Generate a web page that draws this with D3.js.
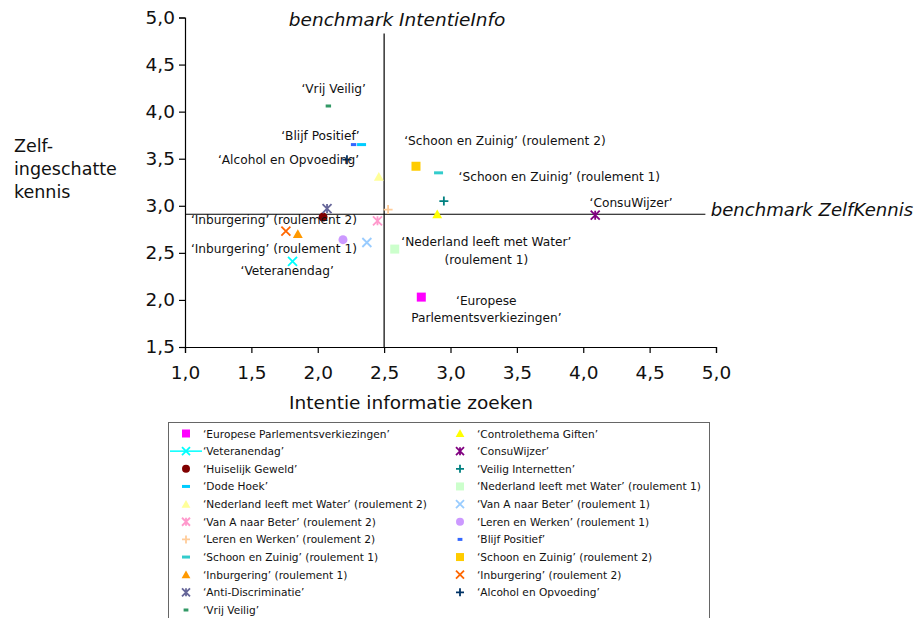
<!DOCTYPE html>
<html>
<head>
<meta charset="utf-8">
<script src="https://cdn.jsdelivr.net/npm/d3@7"></script>
<style>
  html, body { margin: 0; padding: 0; background: #fff; }
  svg { display: block; font-family: "DejaVu Sans", Verdana, sans-serif; }
</style>
</head>
<body>
<svg id="chart" width="921" height="618"></svg>
<script>
// Campaign names, in legend order (read row by row over two columns)
const campaigns = [
  "‘Europese Parlementsverkiezingen’",
  "‘Controlethema Giften’",
  "‘Veteranendag’",
  "‘ConsuWijzer’",
  "‘Huiselijk Geweld’",
  "‘Veilig Internetten’",
  "‘Dode Hoek’",
  "‘Nederland leeft met Water’ (roulement 1)",
  "‘Nederland leeft met Water’ (roulement 2)",
  "‘Van A naar Beter’ (roulement 1)",
  "‘Van A naar Beter’ (roulement 2)",
  "‘Leren en Werken’ (roulement 1)",
  "‘Leren en Werken’ (roulement 2)",
  "‘Blijf Positief’",
  "‘Schoon en Zuinig’ (roulement 1)",
  "‘Schoon en Zuinig’ (roulement 2)",
  "‘Inburgering’ (roulement 1)",
  "‘Inburgering’ (roulement 2)",
  "‘Anti-Discriminatie’",
  "‘Alcohol en Opvoeding’",
  "‘Vrij Veilig’"
];

// Intention to search for information (x)
const intentie = [2.78, 2.90, 1.81, 4.09, 2.04, 2.95, 2.33, 2.58, 2.46, 2.37, 2.45,
                  2.19, 2.53, 2.27, 2.91, 2.74, 1.85, 1.76, 2.07, 2.22, 2.08];

// Self-assessed knowledge (y)
const zelfkennis = [2.03, 2.91, 2.41, 2.90, 2.88, 3.05, 3.65, 2.54, 3.31, 2.61, 2.84,
                    2.64, 2.96, 3.65, 3.35, 3.42, 2.70, 2.73, 2.97, 3.49, 4.06];

// Benchmarks
const benchmarkIntentie = 2.5;
const benchmarkZelfkennis = 2.91;

// Tick values
const xTicks = [1.0, 1.5, 2.0, 2.5, 3.0, 3.5, 4.0, 4.5, 5.0];
const yTicks = [1.5, 2.0, 2.5, 3.0, 3.5, 4.0, 4.5, 5.0];

// Marker colour and symbol for each campaign
const colors = ["#FF00FF", "#FFFF00", "#00FFFF", "#800080", "#800000", "#008080", "#00CCFF",
                "#CCFFCC", "#FFFF99", "#99CCFF", "#FF99CC", "#CC99FF", "#FFCC99", "#3366FF",
                "#33CCCC", "#FFCC00", "#FF9900", "#FF6600", "#666699", "#003366", "#339966"];
const symbols = ["square", "triangle", "cross", "asterisk", "circle", "plus", "dash",
                 "square", "triangle", "cross", "asterisk", "circle", "plus", "shortdash",
                 "dash", "square", "triangle", "cross", "asterisk", "plus", "shortdash"];

// Point annotations: text lines and the data-space centre of the text block
const annotations = [
  { lines: ["‘Vrij Veilig’"], x: 2.12, y: 4.24 },
  { lines: ["‘Blijf Positief’"], x: 2.02, y: 3.74 },
  { lines: ["‘Alcohol en Opvoeding’"], x: 1.78, y: 3.49 },
  { lines: ["‘Schoon en Zuinig’ (roulement 2)"], x: 3.41, y: 3.69 },
  { lines: ["‘Schoon en Zuinig’ (roulement 1)"], x: 3.82, y: 3.31 },
  { lines: ["‘ConsuWijzer’"], x: 4.36, y: 3.03 },
  { lines: ["‘Inburgering’ (roulement 2)"], x: 1.67, y: 2.85 },
  { lines: ["‘Inburgering’ (roulement 1)"], x: 1.67, y: 2.54 },
  { lines: ["‘Veteranendag’"], x: 1.77, y: 2.31 },
  { lines: ["‘Nederland leeft met Water’", "(roulement 1)"], x: 3.27, y: 2.52 },
  { lines: ["‘Europese", "Parlementsverkiezingen’"], x: 3.27, y: 1.90 }
];

const svg = d3.select("#chart");
const margin = { left: 185, right: 205, top: 17.5, bottom: 271 };
const W = 921, H = 618;

const x = d3.scaleLinear().domain([1, 5]).range([margin.left, W - margin.right]);
const y = d3.scaleLinear().domain([1.5, 5]).range([H - margin.bottom, margin.top]);

const fmt = v => d3.format(".1f")(v).replace(".", ",");

// Axes
const xAxis = svg.append("g")
  .attr("transform", `translate(0,${y(1.5)})`)
  .call(d3.axisBottom(x).tickValues(xTicks).tickFormat(fmt).tickSize(6).tickPadding(13));
const yAxis = svg.append("g")
  .attr("transform", `translate(${x(1)},0)`)
  .call(d3.axisLeft(y).tickValues(yTicks).tickFormat(fmt).tickSize(6).tickPadding(4));
[xAxis, yAxis].forEach(a => {
  a.select(".domain").attr("stroke", "#000").attr("stroke-width", 1.2);
  a.selectAll(".tick line").attr("stroke", "#000").attr("stroke-width", 1.2);
  a.selectAll(".tick text").attr("fill", "#111").style("font-size", "18.5px")
    .style("font-family", "'DejaVu Sans', Verdana, sans-serif");
});

// Axis titles
svg.append("text")
  .attr("x", 411).attr("y", 409)
  .attr("text-anchor", "middle").style("font-size", "18.5px").attr("fill", "#111")
  .text("Intentie informatie zoeken");
const yTitle = svg.append("text").attr("x", 14).attr("y", 152)
  .style("font-size", "17.5px").attr("fill", "#111");
["Zelf-", "ingeschatte", "kennis"].forEach((t, i) =>
  yTitle.append("tspan").attr("x", 14).attr("dy", i === 0 ? 0 : 23).text(t));

// Benchmark lines
svg.append("line")
  .attr("x1", x(1)).attr("x2", x(4.92))
  .attr("y1", y(benchmarkZelfkennis)).attr("y2", y(benchmarkZelfkennis))
  .attr("stroke", "#000").attr("stroke-width", 1.2);
svg.append("line")
  .attr("x1", x(benchmarkIntentie)).attr("x2", x(benchmarkIntentie))
  .attr("y1", y(4.83)).attr("y2", y(1.5))
  .attr("stroke", "#000").attr("stroke-width", 1.2);
svg.append("text")
  .attr("x", x(4.96)).attr("y", y(benchmarkZelfkennis) - 5)
  .attr("dominant-baseline", "central")
  .style("font-size", "18.1px").style("font-style", "italic").attr("fill", "#111")
  .text("benchmark ZelfKennis");
svg.append("text")
  .attr("x", x(benchmarkIntentie) + 13).attr("y", 19)
  .attr("dominant-baseline", "central").attr("text-anchor", "middle")
  .style("font-size", "18.5px").style("font-style", "italic").attr("fill", "#111")
  .text("benchmark IntentieInfo");

// Marker drawing
function drawSymbol(g, kind, cx, cy, s, color) {
  const h = s / 2;
  switch (kind) {
    case "square":
      g.append("rect").attr("x", cx - h).attr("y", cy - h).attr("width", s).attr("height", s)
        .attr("fill", color);
      break;
    case "circle":
      g.append("circle").attr("cx", cx).attr("cy", cy).attr("r", h).attr("fill", color);
      break;
    case "triangle":
      g.append("path")
        .attr("d", `M${cx},${cy - h * 1.05}L${cx + h * 1.1},${cy + h * 0.9}L${cx - h * 1.1},${cy + h * 0.9}Z`)
        .attr("fill", color);
      break;
    case "cross":
      g.append("path")
        .attr("d", `M${cx - h},${cy - h}L${cx + h},${cy + h}M${cx - h},${cy + h}L${cx + h},${cy - h}`)
        .attr("stroke", color).attr("stroke-width", 1.8).attr("fill", "none");
      break;
    case "plus":
      g.append("path")
        .attr("d", `M${cx - h},${cy}L${cx + h},${cy}M${cx},${cy - h}L${cx},${cy + h}`)
        .attr("stroke", color).attr("stroke-width", 1.8).attr("fill", "none");
      break;
    case "asterisk":
      g.append("path")
        .attr("d", `M${cx - h},${cy - h}L${cx + h},${cy + h}M${cx - h},${cy + h}L${cx + h},${cy - h}M${cx},${cy - h}L${cx},${cy + h}`)
        .attr("stroke", color).attr("stroke-width", 1.8).attr("fill", "none");
      break;
    case "dash":
      g.append("rect").attr("x", cx - h).attr("y", cy - 1.5).attr("width", s).attr("height", 3)
        .attr("fill", color);
      break;
    case "shortdash":
      g.append("rect").attr("x", cx - h * 0.6).attr("y", cy - 1.5).attr("width", s * 0.6).attr("height", 3)
        .attr("fill", color);
      break;
  }
}

// Points
const pts = svg.append("g");
campaigns.forEach((c, i) => {
  drawSymbol(pts, symbols[i], x(intentie[i]), y(zelfkennis[i]), 9, colors[i]);
});

// Annotations
const ann = svg.append("g").style("font-size", "12.2px").attr("fill", "#111");
annotations.forEach(a => {
  const n = a.lines.length, lh = 17.5;
  a.lines.forEach((t, k) => {
    ann.append("text")
      .attr("x", x(a.x)).attr("y", y(a.y) + (k - (n - 1) / 2) * lh)
      .attr("text-anchor", "middle").attr("dominant-baseline", "central")
      .text(t);
  });
});

// Legend
const legend = svg.append("g");
legend.append("rect")
  .attr("x", 168.5).attr("y", 422.5).attr("width", 541).attr("height", 210)
  .attr("fill", "#fff").attr("stroke", "#666").attr("stroke-width", 1);
campaigns.forEach((c, i) => {
  const col = i % 2, row = Math.floor(i / 2);
  const mx = col === 0 ? 186 : 460;
  const my = 433.5 + row * 17.65;
  const g = legend.append("g");
  if (i === 2) {
    g.append("line").attr("x1", 170).attr("x2", 202).attr("y1", my).attr("y2", my)
      .attr("stroke", colors[i]).attr("stroke-width", 1.5);
  }
  drawSymbol(g, symbols[i], mx, my, 8, colors[i]);
  g.append("text").attr("x", mx + 17).attr("y", my).attr("dominant-baseline", "central")
    .style("font-size", "10.6px").attr("fill", "#111").text(c);
});
</script>
</body>
</html>
